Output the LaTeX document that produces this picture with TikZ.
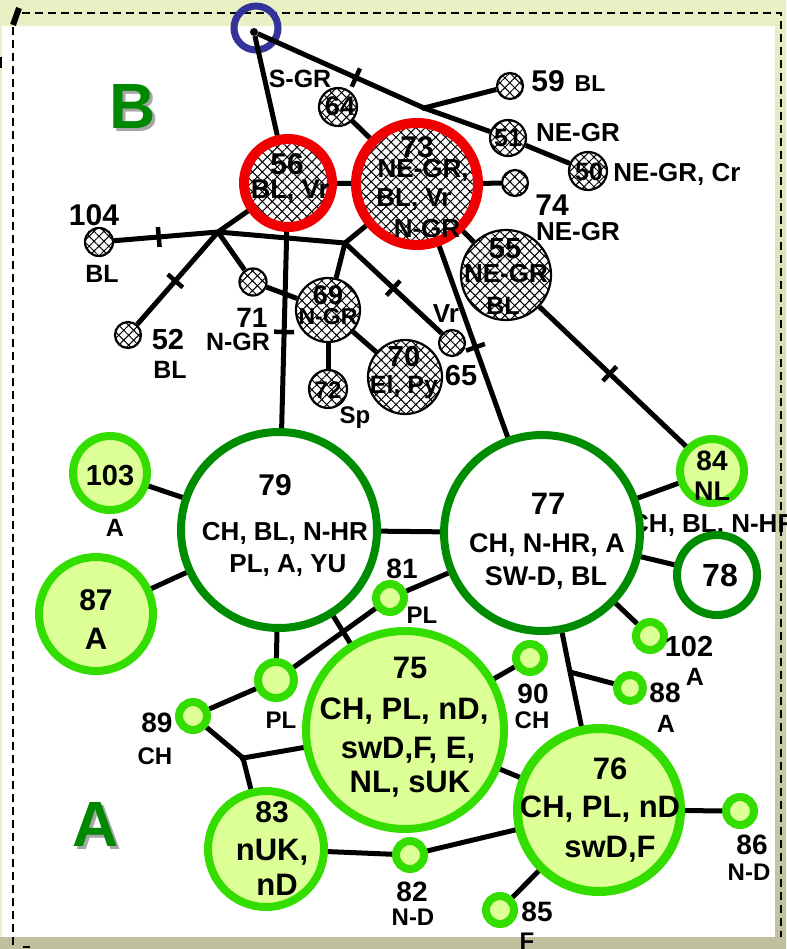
\documentclass[tikz,border=0pt]{standalone}
\usepackage{fontspec}
\setmainfont{Liberation Sans}
\usetikzlibrary{patterns.meta,decorations.markings}

\definecolor{ringred}{RGB}{240,0,0}
\definecolor{darkgreen}{RGB}{0,140,0}
\definecolor{brightgreen}{RGB}{51,221,0}
\definecolor{lightfill}{RGB}{220,255,150}
\definecolor{ringblue}{RGB}{51,51,153}
\definecolor{bandtop}{RGB}{233,240,196}
\definecolor{bandbottom}{RGB}{192,192,158}
\definecolor{lettergreen}{RGB}{0,136,0}

\newcommand\fsz[1]{\fontsize{#1}{#1}\selectfont\bfseries}

\tikzset{
  hatchnode/.style={circle, draw=black, line width=2.2pt, inner sep=0pt,
    preaction={fill=white},
    pattern={Hatch[angle=45,distance=7pt,line width=1pt]}, pattern color=black},
  redhatch/.style={hatchnode, draw=ringred, line width=10pt},
  darkring/.style={circle, draw=darkgreen, fill=white, line width=8pt, inner sep=0pt},
  greenring/.style={circle, draw=brightgreen, fill=lightfill, line width=8pt, inner sep=0pt},
  conn/.style={line width=5pt},
  crossbar/.style={postaction={decorate, decoration={markings,
    mark=at position #1 with {\draw[line width=4.5pt] (0pt,-10pt) -- (0pt,10pt);}}}},
  txt/.style={inner sep=0pt, anchor=base},
  frameline/.style={line width=1.6pt, dash pattern=on 8pt off 5pt}
}

\begin{document}
\begin{tikzpicture}[x=1pt, y=-1pt]
\useasboundingbox (0,0) rectangle (786,949);

% page frame and bands
\fill[bandtop] (0,0) rectangle (786,949);
\shade[top color=bandtop, bottom color=bandbottom] (775,0) rectangle (786,949);
\fill[bandbottom] (0,937) rectangle (786,949);
\fill[white] (2,26) rectangle (775,937);
\draw[frameline] (22,13) -- (781,13) -- (781,937);
\draw[frameline] (13,27) -- (13,949);
\draw[line width=6pt] (13,25) -- (19,8);
\fill (0,57) rectangle (2,68);
\draw[line width=1.5pt] (23,947) -- (30,947);

% region letters
\node[txt, font=\fsz{64}, text=black!35] at (136,132) {B};
\node[txt, font=\fsz{64}, text=lettergreen] (letterB) at (133,129) {B};
\node[txt, font=\fsz{64}, text=black!35] at (99,849) {A};
\node[txt, font=\fsz{64}, text=lettergreen] (letterA) at (96,846) {A};

% text lying beneath node 77
\node[txt, anchor=base west, font=\fsz{26}] (t84c) at (630,532) {CH, BL. N-HR};

% junctions
\coordinate (j1) at (218,232);
\coordinate (j2) at (345,243);
\coordinate (j3) at (424,108);
\coordinate (j4) at (243,758);
\coordinate (j5) at (570,672);

% upper group (hatched)
\node[circle, draw=ringblue, line width=7pt, minimum size=44pt, inner sep=0pt] (top) at (256,28) {};
\node[circle, fill=black, minimum size=8pt, inner sep=0pt] (hub) at (254,32) {};
\node[hatchnode, minimum size=38pt] (n64) at (338,107) {};
\node[redhatch, minimum size=88pt] (n56) at (288,183) {};
\node[redhatch, minimum size=122pt] (n73) at (417,184) {};
\node[hatchnode, minimum size=26pt] (n74) at (515,183) {};
\node[hatchnode, minimum size=26pt] (n59) at (510,86) {};
\node[hatchnode, minimum size=36pt] (n51) at (508,138) {};
\node[hatchnode, minimum size=38pt] (n50) at (588,171) {};
\node[hatchnode, minimum size=90pt] (n55) at (506,275) {};
\node[hatchnode, minimum size=28pt] (n104) at (99,242) {};
\node[hatchnode, minimum size=26pt] (n52) at (128,335) {};
\node[hatchnode, minimum size=27pt] (n71) at (253,282) {};
\node[hatchnode, minimum size=64pt] (n69) at (328,310) {};
\node[hatchnode, minimum size=38pt] (n72) at (328,389) {};
\node[hatchnode, minimum size=74pt] (n70) at (405,377) {};
\node[hatchnode, minimum size=26pt] (n65) at (452,343) {};

% lower group (green)
\node[darkring, minimum size=196pt] (n79) at (279,530) {};
\node[darkring, minimum size=196pt] (n77) at (542,533) {};
\node[darkring, minimum size=80pt] (n78) at (717,575) {};
\node[greenring, minimum size=64pt] (n84) at (712,471) {};
\node[greenring, minimum size=74pt] (n103) at (110,473) {};
\node[greenring, minimum size=114pt] (n87) at (96,614) {};
\node[greenring, minimum size=36pt] (npl) at (276,680) {};
\node[greenring, minimum size=28pt] (n81) at (390,598) {};
\node[greenring, minimum size=28pt] (n89) at (193,716) {};
\node[greenring, minimum size=28pt] (n90) at (530,658) {};
\node[greenring, minimum size=28pt] (n102) at (650,636) {};
\node[greenring, minimum size=26pt] (n88) at (630,688) {};
\node[greenring, minimum size=198pt] (n75) at (405,730) {};
\node[greenring, minimum size=163pt, line width=9pt] (n76) at (599,810) {};
\node[greenring, minimum size=116pt] (n83) at (266,849) {};
\node[greenring, minimum size=28pt] (n82) at (410,855) {};
\node[greenring, minimum size=28pt] (n86) at (740,811) {};
\node[greenring, minimum size=28pt] (n85) at (500,910) {};

% connectors, upper group
\draw[conn] (hub) -- (n56);
\draw[conn, crossbar=0.59] (hub) -- (j3);
\draw[conn] (j3) -- (n59);
\draw[conn] (j3) -- (n51);
\draw[conn] (n51) -- (n50);
\draw[conn] (n64) -- (n73);
\draw[conn] (n56) -- (n73);
\draw[conn] (n73) -- (n74);
\draw[conn] (n73) -- (n55);
\draw[conn, crossbar=0.53] (n73) -- (n77);
\draw[conn, crossbar=0.48] (n55) -- (n84);
\draw[conn, crossbar=0.51] (n56) -- (n79);
\draw[conn] (n56) -- (j1);
\draw[conn, crossbar=0.43] (n104) -- (j1);
\draw[conn, crossbar=0.53] (j1) -- (n52);
\draw[conn] (j1) -- (n71);
\draw[conn] (j1) -- (j2);
\draw[conn] (n71) -- (n69);
\draw[conn] (n73) -- (j2);
\draw[conn] (j2) -- (n69);
\draw[conn, crossbar=0.5] (j2) -- (n65);
\draw[conn] (n69) -- (n72);
\draw[conn] (n69) -- (n70);

% connectors, lower group
\draw[conn] (n79) -- (n77);
\draw[conn] (n103) -- (n79);
\draw[conn] (n87) -- (n79);
\draw[conn] (n79) -- (npl);
\draw[conn] (n79) -- (n75);
\draw[conn] (n77) -- (n81);
\draw[conn] (n81) -- (npl);
\draw[conn] (npl) -- (n89);
\draw[conn] (n89) -- (j4);
\draw[conn] (j4) -- (n75);
\draw[conn] (j4) -- (n83);
\draw[conn] (n75) -- (n90);
\draw[conn] (n75) -- (n76);
\draw[conn] (n83) -- (n82);
\draw[conn] (n82) -- (n76);
\draw[conn] (n77) -- (j5);
\draw[conn] (j5) -- (n76);
\draw[conn] (j5) -- (n88);
\draw[conn] (n77) -- (n102);
\draw[conn] (n77) -- (n78);
\draw[conn] (n77) -- (n84);
\draw[conn] (n76) -- (n86);
\draw[conn] (n76) -- (n85);
\fill (j4) circle (3.5pt);
\fill (j3) circle (3pt);

% labels, upper group
\node[txt, font=\fsz{25}] (tsgr) at (300,88) {S-GR};
\node[txt, font=\fsz{27}] (t64) at (340,116) {64};
\node[txt, font=\fsz{30}] (t56a) at (287,175) {56};
\node[txt, font=\fsz{27}] (t56b) at (290,199) {BL, Vr};
\node[txt, font=\fsz{30}] (t73a) at (417,158) {73};
\node[txt, font=\fsz{26}] (t73b) at (423,178) {NE-GR,};
\node[txt, font=\fsz{26}] (t73c) at (414,207) {BL, Vr};
\node[txt, font=\fsz{26}] (t73d) at (427,238) {N-GR};
\node[txt, font=\fsz{30}] (t59a) at (548,92) {59};
\node[txt, font=\fsz{23}] (t59b) at (590,92) {BL};
\node[txt, font=\fsz{26}] (t51b) at (578,142) {NE-GR};
\node[txt, font=\fsz{25}] (t51a) at (508,147) {51};
\node[txt, font=\fsz{25}] (t50a) at (589,181) {50};
\node[txt, font=\fsz{26}] (t50b) at (677,182) {NE-GR, Cr};
\node[txt, font=\fsz{30}] (t74a) at (552,216) {74};
\node[txt, font=\fsz{26}] (t74b) at (578,241) {NE-GR};
\node[txt, font=\fsz{29}] (t55a) at (505,259) {55};
\node[txt, font=\fsz{26}] (t55b) at (506,283) {NE-GR};
\node[txt, font=\fsz{25}] (t55c) at (503,314) {BL};
\node[txt, font=\fsz{30}] (t104a) at (94,226) {104};
\node[txt, font=\fsz{25}] (t104b) at (102,283) {BL};
\node[txt, font=\fsz{29}] (t52a) at (168,349) {52};
\node[txt, font=\fsz{25}] (t52b) at (170,378) {BL};
\node[txt, font=\fsz{28}] (t71a) at (252,327) {71};
\node[txt, font=\fsz{25}] (t71b) at (238,350) {N-GR};
\node[txt, font=\fsz{27}] (t69a) at (328,304) {69};
\node[txt, font=\fsz{23}] (t69b) at (328,324) {N-GR};
\node[txt, font=\fsz{24}] (t72a) at (328,398) {72};
\node[txt, font=\fsz{24}] (t72b) at (355,423) {Sp};
\node[txt, font=\fsz{29}] (t70a) at (404,366) {70};
\node[txt, font=\fsz{25}] (t70b) at (404,393) {El, Py};
\node[txt, font=\fsz{26}] (t65b) at (446,322) {Vr};
\node[txt, font=\fsz{29}] (t65a) at (461,385) {65};

% labels, lower group
\node[txt, font=\fsz{30}] (t79a) at (275,495) {79};
\node[txt, font=\fsz{26}] (t79b) at (285,540) {CH, BL, N-HR};
\node[txt, font=\fsz{26}] (t79c) at (288,572) {PL, A, YU};
\node[txt, font=\fsz{31}] (t77a) at (548,514) {77};
\node[txt, font=\fsz{27}] (t77b) at (547,552) {CH, N-HR, A};
\node[txt, font=\fsz{27}] (t77c) at (546,585) {SW-D, BL};
\node[txt, font=\fsz{29}] (t103a) at (110,485) {103};
\node[txt, font=\fsz{25}] (t103b) at (115,536) {A};
\node[txt, font=\fsz{30}] (t87a) at (96,610) {87};
\node[txt, font=\fsz{31}] (t87b) at (96,649) {A};
\node[txt, font=\fsz{28}] (t81a) at (402,578) {81};
\node[txt, font=\fsz{24}] (t81b) at (422,623) {PL};
\node[txt, font=\fsz{24}] (tplb) at (281,728) {PL};
\node[txt, font=\fsz{31}] (t75a) at (410,678) {75};
\node[txt, font=\fsz{31}] (t75b) at (404,719) {CH, PL, nD,};
\node[txt, font=\fsz{31}] (t75c) at (408,758) {swD,F, E,};
\node[txt, font=\fsz{31}] (t75d) at (410,792) {NL, sUK};
\node[txt, font=\fsz{28}] (t90a) at (533,703) {90};
\node[txt, font=\fsz{24}] (t90b) at (532,728) {CH};
\node[txt, font=\fsz{28}] (t89a) at (157,732) {89};
\node[txt, font=\fsz{24}] (t89b) at (155,764) {CH};
\node[txt, font=\fsz{30}] (t83a) at (272,822) {83};
\node[txt, font=\fsz{31}] (t83b) at (272,860) {nUK,};
\node[txt, font=\fsz{31}] (t83c) at (277,895) {nD};
\node[txt, font=\fsz{28}] (t82a) at (412,901) {82};
\node[txt, font=\fsz{24}] (t82b) at (413,925) {N-D};
\node[txt, font=\fsz{31}] (t76a) at (610,779) {76};
\node[txt, font=\fsz{31}] (t76b) at (600,817) {CH, PL, nD};
\node[txt, font=\fsz{31}] (t76c) at (610,857) {swD,F};
\node[txt, font=\fsz{28}] (t86a) at (752,854) {86};
\node[txt, font=\fsz{24}] (t86b) at (749,880) {N-D};
\node[txt, font=\fsz{28}] (t85a) at (537,921) {85};
\node[txt, font=\fsz{24}] (t85b) at (527,949) {F};
\node[txt, font=\fsz{28}] (t88a) at (665,702) {88};
\node[txt, font=\fsz{25}] (t88b) at (666,732) {A};
\node[txt, font=\fsz{29}] (t102a) at (689,656) {102};
\node[txt, font=\fsz{25}] (t102b) at (695,685) {A};
\node[txt, font=\fsz{32}] (t78a) at (720,586) {78};
\node[txt, font=\fsz{28}] (t84a) at (712,470) {84};
\node[txt, font=\fsz{27}] (t84b) at (712,500) {NL};
\end{tikzpicture}
\end{document}
